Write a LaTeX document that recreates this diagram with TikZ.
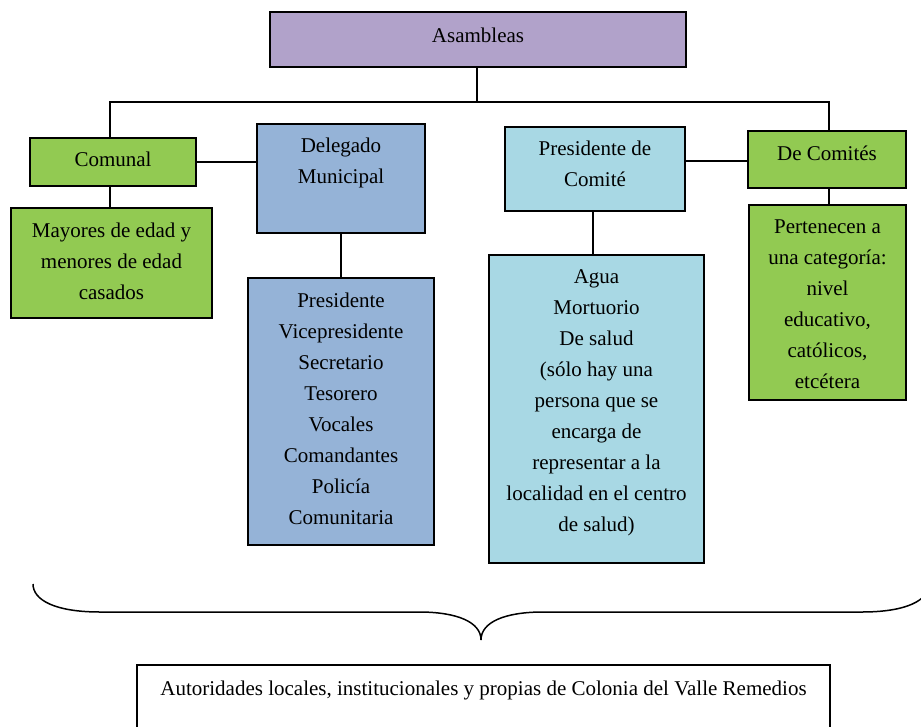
\documentclass[tikz,border=0pt]{standalone}
\usepackage{fontspec}
\setmainfont{Liberation Serif}

\definecolor{lila}{RGB}{177,162,202}
\definecolor{verde}{RGB}{146,202,82}
\definecolor{azul}{RGB}{149,179,215}
\definecolor{celeste}{RGB}{168,216,228}

\tikzset{every picture/.style={line width=0.75pt}}
\tikzset{
  caja/.style={draw, line width=1.8pt, inner sep=0pt},
  txt/.style={align=center, inner sep=0pt, anchor=north, execute at begin node=\strut,
    font=\fontsize{21}{31}\selectfont},
  liga/.style={line width=1.5pt}
}

\begin{document}
\begin{tikzpicture}[x=1pt,y=1pt,yscale=-1,xscale=1]
\useasboundingbox (0,0) rectangle (921,726);
\clip (0,0) rectangle (921,726);

%Shape: Rectangle [id:asambleas]
\node [caja, fill=lila, minimum width=416, minimum height=55] (asam) at (478,39.5) {};
%Shape: Rectangle [id:comunal]
\node [caja, fill=verde, minimum width=166, minimum height=48] (comunal) at (113,162) {};
%Shape: Rectangle [id:delegado]
\node [caja, fill=azul, minimum width=168, minimum height=109] (delegado) at (341,178.5) {};
%Shape: Rectangle [id:pcomite]
\node [caja, fill=celeste, minimum width=180, minimum height=84] (pcomite) at (595,169) {};
%Shape: Rectangle [id:comites]
\node [caja, fill=verde, minimum width=158, minimum height=57] (comites) at (827,159.5) {};
%Shape: Rectangle [id:mayores]
\node [caja, fill=verde, minimum width=201, minimum height=110] (mayores) at (111.5,263) {};
%Shape: Rectangle [id:lista]
\node [caja, fill=azul, minimum width=186, minimum height=267] (lista) at (341,411.5) {};
%Shape: Rectangle [id:agua]
\node [caja, fill=celeste, minimum width=215, minimum height=308] (agua) at (596.5,409) {};
%Shape: Rectangle [id:perten]
\node [caja, fill=verde, minimum width=157, minimum height=195] (perten) at (827.5,302.5) {};
%Shape: Rectangle [id:autor]
\node [caja, minimum width=693, minimum height=95] (autor) at (483.5,712.5) {};

%Straight Lines
\coordinate (bus) at (477,102);
\draw [liga] ([xshift=-1]asam.south) -- (bus);
\draw [liga] ([xshift=-3]comunal.north) |- (bus) -| ([xshift=2]comites.north);
\draw [liga] (comunal.east) -- (comunal.east -| delegado.west);
\draw [liga] ([yshift=1.5]comites.west -| pcomite.east) -- ([yshift=1.5]comites.west);
\draw [liga] ([xshift=-3]comunal.south) -- ([xshift=-3]comunal.south |- mayores.north);
\draw [liga] (delegado.south) -- (lista.north);
\draw [liga] ([xshift=-2]pcomite.south) -- ([xshift=-2]pcomite.south |- agua.north);
\draw [liga] ([xshift=2]comites.south) -- ([xshift=2]comites.south |- perten.north);

%Curve Lines (brace)
\draw [liga] (33,584) .. controls (33,600) and (55,612) .. (100,612) -- (419,612)
  .. controls (457,612) and (481,622) .. (481,640)
  .. controls (481,622) and (505,612) .. (543,612) -- (862,612)
  .. controls (907,612) and (929,600) .. (929,584);

% Text Node
\node [txt] (asamT) at (478,20) {Asambleas};
% Text Node
\node [txt] (comunalT) at (113,144.5) {Comunal};
% Text Node
\node [txt] (delegadoT) at (341,138) {Delegado\\Municipal};
% Text Node
\node [txt] (pcomiteT) at (595,141) {Presidente de\\Comité};
% Text Node
\node [txt] (comitesT) at (827,138.5) {De Comités};
% Text Node
\node [txt] (mayoresT) at (111.5,223) {Mayores de edad y\\menores de edad\\casados};
% Text Node
\node [txt] (listaT) at (341,293) {Presidente\\Vicepresidente\\Secretario\\Tesorero\\Vocales\\Comandantes\\Policía\\Comunitaria};
% Text Node
\node [txt] (aguaT) at (596.5,269) {Agua\\Mortuorio\\De salud\\(sólo hay una\\persona que se\\encarga de\\representar a la\\localidad en el centro\\de salud)};
% Text Node
\node [txt] (pertenT) at (827.5,219) {Pertenecen a\\una categoría:\\nivel\\educativo,\\católicos,\\etcétera};
% Text Node
\node [txt] (autorT) at (483.5,673) {Autoridades locales, institucionales y propias de Colonia del Valle Remedios};

\end{tikzpicture}
\end{document}
